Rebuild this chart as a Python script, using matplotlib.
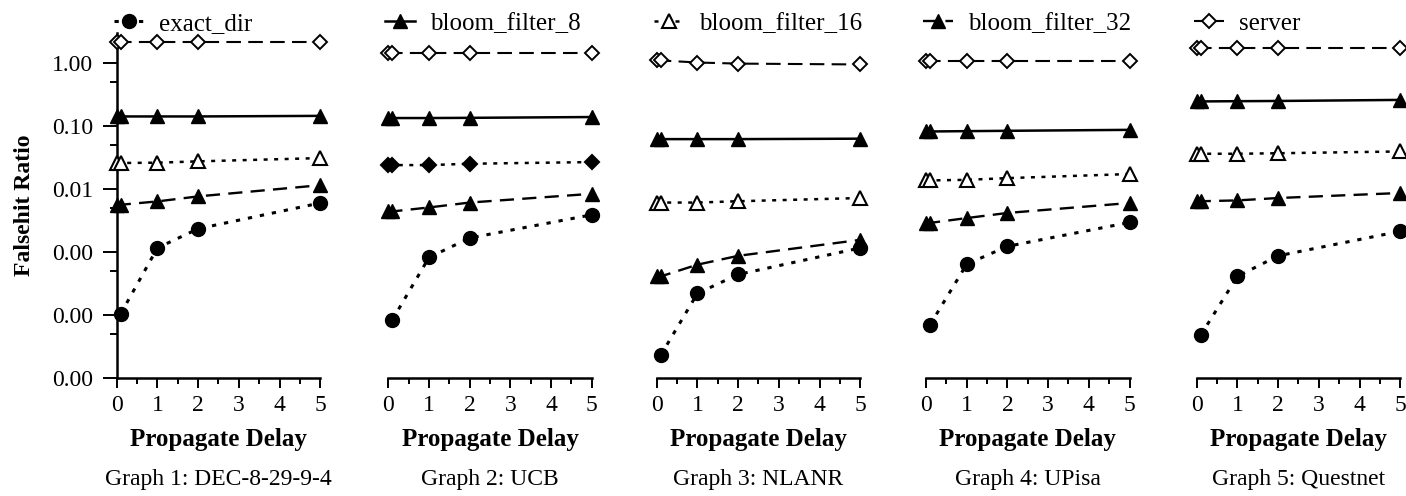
import numpy as np
import matplotlib
matplotlib.use("Agg")
import matplotlib.pyplot as plt
from matplotlib.ticker import FixedLocator, FuncFormatter
from matplotlib.lines import Line2D

plt.rcParams['font.family'] = ['Liberation Serif', 'DejaVu Serif']

# ---------------- data ----------------
delays = [0, 0.1, 1, 2, 5]
graph_titles = ["Graph 1: DEC-8-29-9-4", "Graph 2: UCB", "Graph 3: NLANR",
                "Graph 4: UPisa", "Graph 5: Questnet"]
series_names = ["server", "bloom_filter_8", "bloom_filter_16", "bloom_filter_32", "exact_dir"]

server = [
    [2.15, 2.15, 2.15, 2.15, 2.15],
    [1.44, 1.44, 1.44, 1.44, 1.44],
    [1.10, 1.10, 1.02, 0.98, 0.95],
    [1.06, 1.06, 1.06, 1.06, 1.06],
    [1.73, 1.73, 1.73, 1.73, 1.73],
]
bloom_filter_8 = [
    [0.142, 0.142, 0.142, 0.142, 0.145],
    [0.134, 0.134, 0.134, 0.135, 0.139],
    [0.062, 0.062, 0.062, 0.062, 0.063],
    [0.082, 0.082, 0.083, 0.084, 0.087],
    [0.246, 0.246, 0.248, 0.250, 0.260],
]
bloom_filter_16 = [
    [0.0259, 0.0259, 0.0262, 0.0275, 0.031],
    [0.024, 0.024, 0.024, 0.0252, 0.0268],
    [0.0061, 0.0061, 0.0061, 0.0064, 0.0072],
    [0.0137, 0.0137, 0.014, 0.0149, 0.0173],
    [0.0363, 0.0363, 0.0363, 0.037, 0.0395],
]
bloom_filter_32 = [
    [0.00563, 0.00563, 0.00636, 0.00764, 0.0115],
    [0.00441, 0.00441, 0.0051, 0.0061, 0.0084],
    [0.00041, 0.00041, 0.00063, 0.00087, 0.00156],
    [0.0029, 0.0029, 0.00346, 0.00417, 0.0060],
    [0.0064, 0.0064, 0.0066, 0.0072, 0.00865],
]
exact_dir = [
    [np.nan, 1.05e-4, 1.16e-3, 2.34e-3, 6.0e-3],
    [np.nan, 8.4e-5, 8.2e-4, 1.67e-3, 3.9e-3],
    [np.nan, 2.3e-5, 2.2e-4, 4.4e-4, 1.16e-3],
    [np.nan, 7.0e-5, 6.4e-4, 1.23e-3, 2.95e-3],
    [np.nan, 4.8e-5, 4.1e-4, 8.7e-4, 2.13e-3],
]

ytick_vals = [1e-5, 1e-4, 1e-3, 1e-2, 1e-1, 1.0]
yminor_vals = [5e-5, 5e-4, 5e-3, 5e-2, 5e-1]
xtick_vals = [0, 1, 2, 3, 4, 5]

# ---------------- styles ----------------
styles = {
    "server": dict(ls=(0, (7, 3.5)), marker='D', ms=7, mfc='white', mec='black', mew=1.4, lw=1.5),
    "bloom_filter_8": dict(ls='-', marker='^', ms=10, mfc='black', mec='black', lw=1.8),
    "bloom_filter_16": dict(ls=(0, (1.6, 2.6)), marker='^', ms=10, mfc='white', mec='black', mew=1.5, lw=1.8),
    "bloom_filter_32": dict(ls=(0, (6, 3.5)), marker='^', ms=10, mfc='black', mec='black', lw=1.7),
    "exact_dir": dict(ls=(0, (1.4, 2.6)), marker='o', ms=10, mfc='black', mec='black', lw=2.2),
}
legend_series = ["exact_dir", "bloom_filter_8", "bloom_filter_16", "bloom_filter_32", "server"]

W, H = 1406, 496
fig = plt.figure(figsize=(W / 100, H / 100), dpi=100)

lefts_px = [116.7, 388.3, 656.7, 926.0, 1196.7]
width_px = 203.5
bottom_px = 378
height_px = 345

data = {"server": server, "bloom_filter_8": bloom_filter_8, "bloom_filter_16": bloom_filter_16,
        "bloom_filter_32": bloom_filter_32, "exact_dir": exact_dir}

for i, lp in enumerate(lefts_px):
    ax = fig.add_axes([lp / W, 1 - bottom_px / H, width_px / W, height_px / H])
    for name in series_names:
        st = dict(styles[name])
        if i == 1 and name == "bloom_filter_16":
            st.update(marker='D', ms=7.5, mfc='black')
        ax.plot(delays, data[name][i], color='black', clip_on=False, zorder=3, **st)
    ax.set_yscale('log')
    ax.set_ylim(1e-5, 3.0)
    ax.set_xlim(0, 5)
    for s in ['top', 'right']:
        ax.spines[s].set_visible(False)
    ax.spines['bottom'].set_linewidth(1.8)
    ax.spines['left'].set_linewidth(1.8)
    ax.xaxis.set_major_locator(FixedLocator(xtick_vals))
    ax.xaxis.set_minor_locator(FixedLocator([0.5, 1.5, 2.5, 3.5, 4.5]))
    ax.tick_params(axis='x', which='major', direction='out', length=7, width=1.4,
                   labelsize=17, pad=5)
    ax.tick_params(axis='x', which='minor', direction='out', length=4, width=1.4)
    if i == 0:
        ax.yaxis.set_major_locator(FixedLocator(ytick_vals))
        ax.yaxis.set_minor_locator(FixedLocator(yminor_vals))
        ax.yaxis.set_major_formatter(FuncFormatter(lambda v, p: f"{v:.2f}"))
        ax.tick_params(axis='y', which='major', direction='out', length=10, width=1.4,
                       labelsize=17, pad=7)
        ax.tick_params(axis='y', which='minor', direction='out', length=5, width=1.4)
        ax.set_ylabel("Falsehit Ratio", fontsize=17, fontweight='bold', labelpad=12)
    else:
        ax.spines['left'].set_visible(False)
        ax.yaxis.set_major_locator(FixedLocator([]))
        ax.yaxis.set_minor_locator(FixedLocator([]))
    ax.patch.set_visible(False)
    ax.set_xlabel("Propagate Delay", fontsize=18, fontweight='bold', labelpad=9)
    ax.text(0.5, -0.295, graph_titles[i], transform=ax.transAxes, ha='center', va='center',
            fontsize=17)
    name = legend_series[i]
    st = dict(styles[name])
    handle = Line2D([], [], color='black', **st)
    ax.legend(handles=[handle], labels=[name], loc='lower left', bbox_to_anchor=(-0.015, 0.995),
              frameon=False, fontsize=18, handlelength=1.2, handletextpad=0.6,
              borderpad=0, borderaxespad=0)

fig.savefig("out.png", dpi=100)
